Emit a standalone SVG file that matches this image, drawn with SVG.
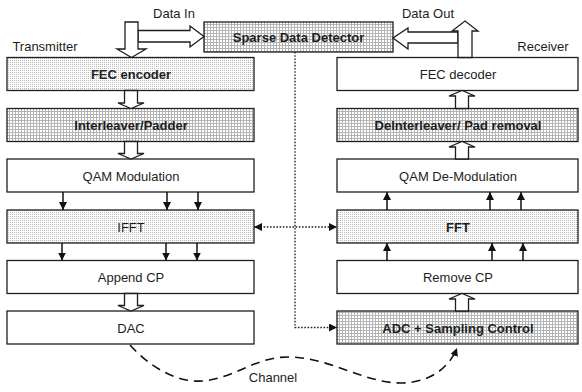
<svg xmlns="http://www.w3.org/2000/svg" width="582" height="392" viewBox="0 0 582 392">
  <defs>
    <!-- fine stipple fill -->
    <pattern id="stipple" width="2" height="2" patternUnits="userSpaceOnUse">
      <rect width="2" height="2" fill="#ffffff"/>
      <rect width="1" height="1" fill="#b8b8b8"/>
    </pattern>
    <!-- small square grid fill -->
    <pattern id="grid" width="3" height="3" patternUnits="userSpaceOnUse">
      <rect width="3" height="3" fill="#ffffff"/>
      <rect width="3" height="1" fill="#b4b4b4"/>
      <rect width="1" height="3" fill="#b4b4b4"/>
    </pattern>
    <marker id="head" viewBox="0 0 10 10" refX="10" refY="5" markerWidth="8" markerHeight="8" markerUnits="userSpaceOnUse" orient="auto-start-reverse">
      <path d="M0,0 L10,5 L0,10 z" fill="#111" stroke="none"/>
    </marker>
  </defs>
  <style>
    .box { stroke: #1e1e1e; stroke-width: 1.3; }
    .plain { fill: #ffffff; }
    .dots { fill: url(#stipple); }
    .mesh { fill: url(#grid); }
    .lbl { font-family: "Liberation Sans", Arial, sans-serif; font-size: 13px; fill: #1e1e1e; text-anchor: middle; }
    .b { font-weight: bold; }
    .side { font-family: "Liberation Sans", Arial, sans-serif; font-size: 13px; fill: #1e1e1e; text-anchor: middle; }
    .block { fill: #ffffff; stroke: #1e1e1e; stroke-width: 1.3; stroke-linejoin: miter; }
    .sig { stroke: #111; stroke-width: 1.5; fill: none; }
    .ctl { stroke: #222; stroke-width: 1.3; fill: none; stroke-dasharray: 1.6 1.6; }
    .chan { stroke: #111; stroke-width: 1.6; fill: none; stroke-dasharray: 9 6; }
  </style>

  <rect width="582" height="392" fill="#ffffff"/>

  <!-- side captions -->
  <text class="side" x="45" y="51">Transmitter</text>
  <text class="side" x="543" y="51">Receiver</text>
  <text class="side" x="174" y="18">Data In</text>
  <text class="side" x="428" y="18">Data Out</text>
  <text class="side" x="273" y="382">Channel</text>

  <!-- transmitter chain -->
  <g id="fec-encoder">
    <rect class="box dots" x="7" y="57.5" width="247" height="33"/>
    <text class="lbl b" x="131" y="79">FEC encoder</text>
  </g>
  <g id="interleaver">
    <rect class="box mesh" x="7" y="108.5" width="247" height="33"/>
    <text class="lbl b" x="131" y="130">Interleaver/Padder</text>
  </g>
  <g id="qam-mod">
    <rect class="box plain" x="7" y="159" width="247" height="33"/>
    <text class="lbl" x="131" y="180.5">QAM Modulation</text>
  </g>
  <g id="ifft">
    <rect class="box dots" x="7" y="210" width="247" height="33"/>
    <text class="lbl" x="131" y="231.5">IFFT</text>
  </g>
  <g id="append-cp">
    <rect class="box plain" x="7" y="260.5" width="247" height="33"/>
    <text class="lbl" x="131" y="282">Append CP</text>
  </g>
  <g id="dac">
    <rect class="box plain" x="7" y="311" width="247" height="33"/>
    <text class="lbl" x="131" y="332.5">DAC</text>
  </g>

  <!-- detector -->
  <g id="sparse-detector">
    <rect class="box mesh" x="204" y="22" width="189" height="30"/>
    <text class="lbl b" x="298.5" y="41.5">Sparse Data Detector</text>
  </g>

  <!-- receiver chain -->
  <g id="fec-decoder">
    <rect class="box plain" x="337" y="57.5" width="241" height="33"/>
    <text class="lbl" x="458" y="79">FEC decoder</text>
  </g>
  <g id="deinterleaver">
    <rect class="box mesh" x="337" y="108.5" width="241" height="33"/>
    <text class="lbl b" x="458" y="130">DeInterleaver/ Pad removal</text>
  </g>
  <g id="qam-demod">
    <rect class="box plain" x="337" y="159" width="241" height="33"/>
    <text class="lbl" x="458" y="180.5">QAM De-Modulation</text>
  </g>
  <g id="fft">
    <rect class="box dots" x="337" y="210" width="241" height="33"/>
    <text class="lbl b" x="458" y="231.5">FFT</text>
  </g>
  <g id="remove-cp">
    <rect class="box plain" x="337" y="260.5" width="241" height="33"/>
    <text class="lbl" x="458" y="282">Remove CP</text>
  </g>
  <g id="adc">
    <rect class="box mesh" x="337" y="311" width="241" height="33"/>
    <text class="lbl b" x="458" y="332.5">ADC + Sampling Control</text>
  </g>

  <g id="connectors">
    <!-- data in: down into the encoder, branch to the detector -->
    <polygon class="block" points="138,30.5 190,30.5 190,26 204,36.5 190,47 190,42 138,42"/>
    <polygon class="block" points="125,22 138,22 138,49 146,49 131.5,57.5 117,49 125,49"/>
    <!-- data out: up from the decoder, branch to the detector -->
    <polygon class="block" points="458,43 408,43 408,49 393,38 408,28 408,32 458,32"/>
    <polygon class="block" points="458,57.5 458,31 452,31 465,21 478,31 472,31 472,57.5"/>

    <!-- transmitter block arrows -->
    <polygon class="block" points="124.5,90.5 137.5,90.5 137.5,103 144,103 131,108.5 118,103 124.5,103"/>
    <polygon class="block" points="124.5,141.5 137.5,141.5 137.5,153.5 144,153.5 131,159 118,153.5 124.5,153.5"/>
    <polygon class="block" points="124.5,293.5 137.5,293.5 137.5,305.5 144,305.5 131,311 118,305.5 124.5,305.5"/>

    <!-- receiver block arrows -->
    <polygon class="block" points="455.5,108.5 468.5,108.5 468.5,96 475,96 462,90.5 449,96 455.5,96"/>
    <polygon class="block" points="455.5,159 468.5,159 468.5,147 475,147 462,141.5 449,147 455.5,147"/>
    <polygon class="block" points="455.5,311 468.5,311 468.5,299 475,299 462,293.5 449,299 455.5,299"/>

    <!-- parallel sample lines -->
    <line class="sig" x1="63" y1="192" x2="63" y2="210" marker-end="url(#head)"/>
    <line class="sig" x1="167" y1="192" x2="167" y2="210" marker-end="url(#head)"/>
    <line class="sig" x1="198" y1="192" x2="198" y2="210" marker-end="url(#head)"/>
    <line class="sig" x1="62" y1="243" x2="62" y2="260.5" marker-end="url(#head)"/>
    <line class="sig" x1="166" y1="243" x2="166" y2="260.5" marker-end="url(#head)"/>
    <line class="sig" x1="197" y1="243" x2="197" y2="260.5" marker-end="url(#head)"/>
    <line class="sig" x1="387" y1="210" x2="387" y2="192" marker-end="url(#head)"/>
    <line class="sig" x1="490" y1="210" x2="490" y2="192" marker-end="url(#head)"/>
    <line class="sig" x1="521" y1="210" x2="521" y2="192" marker-end="url(#head)"/>
    <line class="sig" x1="387" y1="260.5" x2="387" y2="243" marker-end="url(#head)"/>
    <line class="sig" x1="492" y1="260.5" x2="492" y2="243" marker-end="url(#head)"/>
    <line class="sig" x1="523" y1="260.5" x2="523" y2="243" marker-end="url(#head)"/>

    <!-- detector control lines -->
    <polyline class="ctl" points="295,52 295,327.5 337,327.5" marker-end="url(#head)"/>
    <line class="ctl" x1="254" y1="227" x2="337" y2="227" marker-start="url(#head)" marker-end="url(#head)"/>

    <!-- channel -->
    <path class="chan" d="M130,345 C148,365 175,383 203,381 C235,378 255,357 288,357 C330,357 365,384 403,383 C432,382 450,366 457,348" marker-end="url(#head)"/>
  </g>
</svg>
